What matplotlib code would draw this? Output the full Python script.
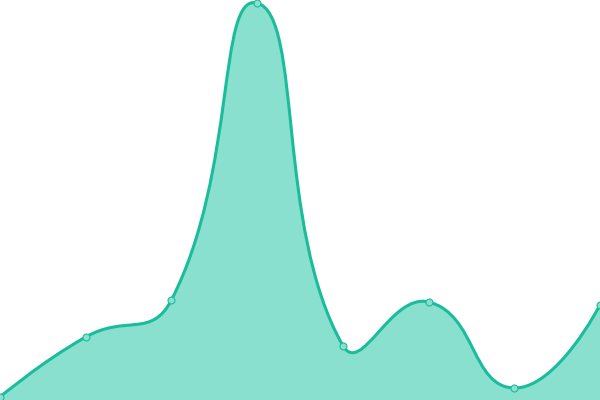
import matplotlib
matplotlib.use("Agg")
import matplotlib.pyplot as plt
import numpy as np
from matplotlib.path import Path
from matplotlib.patches import PathPatch

categories = ["A", "B", "C", "D", "E", "F", "G", "H"]
values = [3, 63, 100, 397, 54.5, 98, 12, 95]

LINE = "#1abc9c"
FILL = "#89e0cf"

fig = plt.figure(figsize=(6, 4), dpi=100)
ax = fig.add_axes([0, 0, 1, 1])
x = np.arange(len(categories))
ax.set_xlim(0, len(categories) - 1)
ax.set_ylim(0, 400)
ax.axis("off")

# smooth (ECharts-like) bezier in display space
pts = ax.transData.transform(np.column_stack([x, values]))
smooth = 0.5
n = len(pts)
verts = [tuple(pts[0])]
codes = [Path.MOVETO]
cps_out = []
cps_in = []
for i in range(n):
    p = pts[i]
    if i == 0 or i == n - 1:
        cps_in.append(p.copy()); cps_out.append(p.copy())
        continue
    prev, nxt = pts[i - 1], pts[i + 1]
    v = nxt - prev
    l0 = np.hypot(*(p - prev)); l1 = np.hypot(*(nxt - p))
    r = l1 / (l0 + l1)
    cps_out.append(p + v * smooth * r)
    cps_in.append(p - v * smooth * (1 - r))
for i in range(n - 1):
    verts += [tuple(cps_out[i]), tuple(cps_in[i + 1]), tuple(pts[i + 1])]
    codes += [Path.CURVE4] * 3
inv = ax.transData.inverted()
dverts = inv.transform(np.array(verts))
line_path = Path(dverts, codes)

fill_verts = list(map(tuple, dverts)) + [(x[-1], 0), (x[0], 0), tuple(dverts[0])]
fill_codes = codes + [Path.LINETO, Path.LINETO, Path.CLOSEPOLY]
ax.add_patch(PathPatch(Path(fill_verts, fill_codes), facecolor=FILL, edgecolor="none", zorder=1))
ax.add_patch(PathPatch(line_path, facecolor="none", edgecolor=LINE, lw=2.2, zorder=2))
ax.plot(x, values, "o", ms=5, mfc=FILL, mec=LINE, mew=0.8, zorder=3, clip_on=True)

fig.savefig("out.png", dpi=100)
